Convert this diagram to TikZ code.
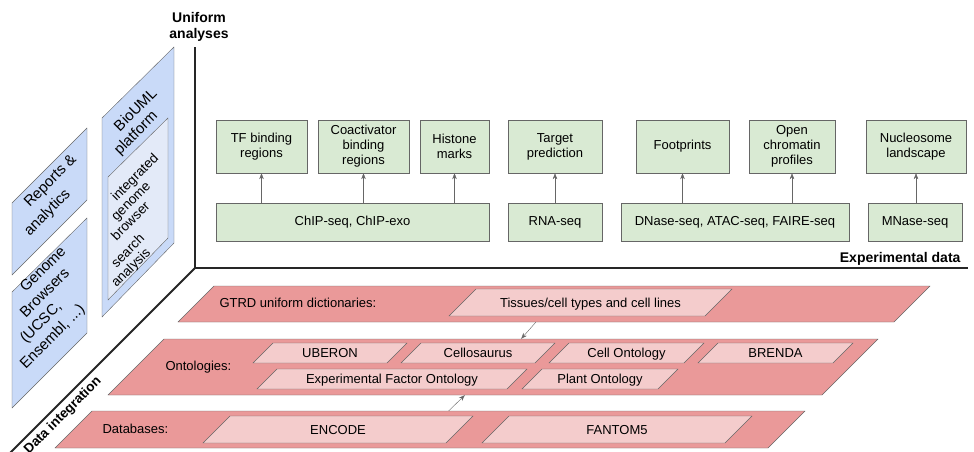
\documentclass[tikz,border=0pt]{standalone}
\usepackage{fontspec}
\setmainfont{Liberation Sans}
\usetikzlibrary{calc, shapes.geometric, arrows.meta}
\definecolor{edge}{HTML}{666666}
\definecolor{resgreen}{HTML}{D9EAD3}
\definecolor{layred}{HTML}{EA9999}
\definecolor{boxred}{HTML}{F4CCCC}
\definecolor{panblue}{HTML}{C9DAF8}
\definecolor{inblue}{HTML}{E3EAF8}

\begin{document}
\begin{tikzpicture} [
  x=1pt, y=-1pt,
  font=\fontsize{13}{15}\selectfont,
  >={Stealth[length=6pt, width=4.5pt]},
  res/.style={draw=edge, fill=resgreen, align=center, minimum height=53pt},
  exp/.style={draw=edge, fill=resgreen, minimum height=38pt},
  para/.style={
    trapezium, trapezium left angle=45, trapezium right angle=135,
    trapezium stretches body, inner sep=0pt, draw=edge},
  low/.style={text height=14.5pt, text depth=5.5pt},
  high/.style={text height=18pt, text depth=9pt},
  layer/.style={para, fill=layred},
  dict/.style={para, fill=boxred},
  panel/.style={draw=edge, fill=panblue},
  ptext/.style={rotate=45, align=left},
  heading/.style={font=\fontsize{14}{16}\selectfont\bfseries, align=center}
  ]
  \useasboundingbox (0,0) rectangle (974,452);

  \coordinate (corner) at (195,268);
  \draw[line width=2pt, black!85] (corner) -- ++(0,-221);
  \draw[line width=2pt, black!85] (corner) -- ++(773,0);
  \draw[line width=2pt, black!85] (corner) -- ++(-192,192);
  \node(ua)[heading] at (199,27) {Uniform\\analyses};
  \node(ed)[heading, anchor=east] at (964,259) {Experimental data};
  \node(di)[heading, rotate=45, font=\fontsize{13.5}{16}\selectfont\bfseries] at (63,416) {Data integration};

  \filldraw[panel] (12,275) -- (12,203) -- (87,128) -- (87,200) -- cycle;
  \filldraw[panel] (12,408) -- (12,292) -- (87,218) -- (87,333) -- cycle;
  \filldraw[panel] (102,317) -- (102,118) -- (174,47) -- (174,243) -- cycle;
  \filldraw[panel, fill=inblue] (108,300) -- (108,177) -- (168,118) -- (168,238) -- cycle;
  \node(rep)[ptext, font=\fontsize{15}{20}\selectfont] at (50.8,195.8)
    {\hspace*{20pt}Reports \&\\analytics};
  \node(gen)[ptext, font=\fontsize{15}{18}\selectfont] at (43.6,308.2)
    {\hspace*{54pt}Genome\\\hspace*{36pt}Browsers\\\hspace*{18pt}(UCSC,\\Ensembl, ...)};
  \node(bio)[ptext, font=\fontsize{15}{16.5}\selectfont] at (136.1,122.1)
    {\hspace*{16.5pt}BioUML\\platform};
  \node(igb)[ptext, font=\fontsize{13.5}{14}\selectfont] at (135.4,221.1)
    {\hspace*{61pt}integrated\\\hspace*{47pt}genome\\\hspace*{33pt}browser\\[5pt]\hspace*{14pt}search\\analysis};

  \node(tfb)[res, minimum width=91pt] at (261.5,146.5) {TF binding\\regions};
  \node(coa)[res, minimum width=91pt] at (363.5,146.5) {Coactivator\\binding\\regions};
  \node(his)[res, minimum width=69pt] at (454.5,146.5) {Histone\\marks};
  \node(tgt)[res, minimum width=94pt] at (555,146.5) {Target\\prediction};
  \node(fpr)[res, minimum width=93pt] at (682.5,146.5) {Footprints};
  \node(ocp)[res, minimum width=86pt] at (792,146.5) {Open\\chromatin\\profiles};
  \node(nuc)[res, minimum width=100pt] at (916,146.5) {Nucleosome\\landscape};
  \node(chip)[exp, minimum width=273pt] at (352.5,222) {ChIP-seq, ChIP-exo};
  \node(rna)[exp, minimum width=94pt] at (555,222) {RNA-seq};
  \node(dna)[exp, minimum width=228pt] at (735,222) {DNase-seq, ATAC-seq, FAIRE-seq};
  \node(mna)[exp, minimum width=94pt] at (915,222) {MNase-seq};

  \node(gtrd)[layer, minimum width=752pt, text height=22.5pt, text depth=13.5pt] at (554,304) {};
  \node(onto)[layer, minimum width=770pt, text height=32.5pt, text depth=23.5pt] at (493,367) {};
  \node(dbs)[layer, minimum width=750pt, text height=23pt, text depth=14pt] at (430,429.5) {};
  \node(lg)[anchor=west] at (216,303) {GTRD uniform dictionaries:};
  \node(lo)[anchor=west] at (162,367) {Ontologies:};
  \node(ld)[anchor=west] at (99,429) {Databases:};

  \node(tis)[dict, high, minimum width=283pt] at (590.5,302.5) {Tissues/cell types and cell lines};
  \node(ube)[dict, low, minimum width=154pt] at (330,353) {UBERON};
  \node(cel)[dict, low, minimum width=154pt] at (478,353) {Cellosaurus};
  \node(clo)[dict, low, minimum width=155pt] at (626.5,353) {Cell Ontology};
  \node(bre)[dict, low, minimum width=155pt] at (775.5,353) {BRENDA};
  \node(efo)[dict, low, minimum width=270pt] at (392,379) {Experimental Factor Ontology};
  \node(plo)[dict, low, minimum width=156pt] at (600,379) {Plant Ontology};
  \node(enc)[dict, high, minimum width=270pt] at (338,429.5) {ENCODE};
  \node(fan)[dict, high, minimum width=270pt] at (617,429.5) {FANTOM5};

  \begin{scope}[draw=edge]
    \draw[->] (chip.north -| tfb) -- (tfb.south);
    \draw[->] (chip.north -| coa) -- (coa.south);
    \draw[->] (chip.north -| his) -- (his.south);
    \draw[->] (rna) -- (tgt);
    \draw[->] (dna.north -| fpr) -- (fpr.south);
    \draw[->] (dna.north -| ocp) -- (ocp.south);
    \draw[->] (mna.north -| nuc) -- (nuc.south);
    \draw[->] (gtrd.bottom side) -- (onto.top side);
    \draw[->] (dbs.top side) -- (onto.bottom side);
  \end{scope}
\end{tikzpicture}
\end{document}
